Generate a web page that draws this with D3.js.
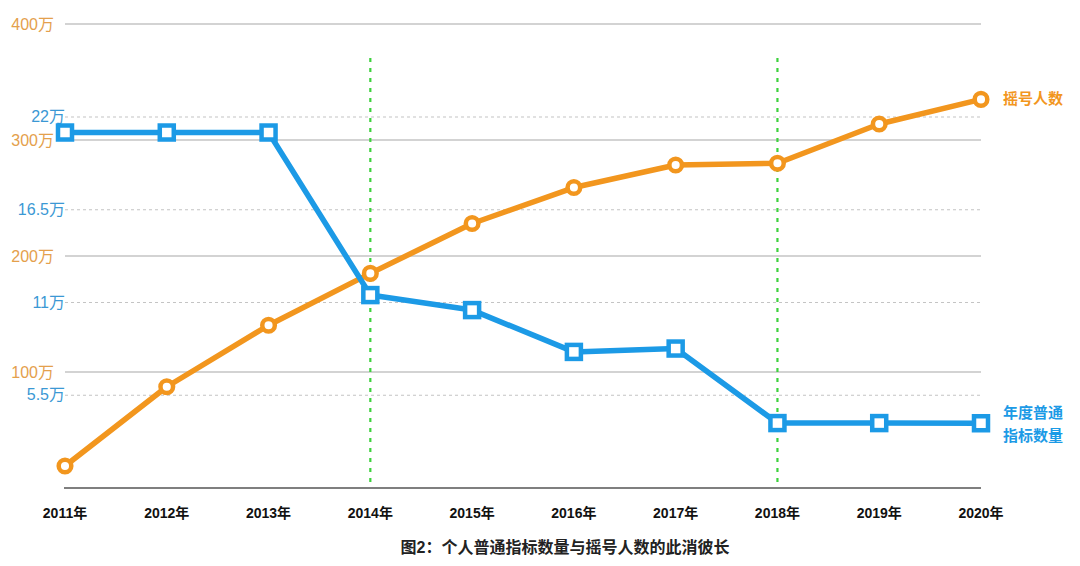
<!DOCTYPE html>
<html>
<head>
<meta charset="utf-8">
<script src="https://cdn.jsdelivr.net/npm/d3@7"></script>
<style>
  body { margin: 0; background: #fff; }
  text { font-family: "Liberation Sans", "Noto Sans CJK SC", sans-serif; }
</style>
</head>
<body>
<div id="chart"></div>
<script>
// data
const years = ["2011年", "2012年", "2013年", "2014年", "2015年", "2016年", "2017年", "2018年", "2019年", "2020年"];
const applicants = [19, 87.3, 140.3, 185, 228, 259, 278.4, 280, 313.8, 335]; // 万人
const quota = [21.08, 21.08, 21.08, 11.44, 10.55, 8.07, 8.27, 3.85, 3.85, 3.84]; // 万个
const leftTicks = [100, 200, 300, 400];
const rightTicks = [5.5, 11, 16.5, 22];
const markYears = ["2014年", "2018年"];

const orange = "#F2961E", blue = "#1C9AE6";

const svg = d3.select("#chart").append("svg")
  .attr("width", 1080)
  .attr("height", 566);

const x = d3.scalePoint().domain(years).range([65, 981]);
const yA = d3.scaleLinear().domain([0, 400]).range([488, 24]);
const yQ = d3.scaleLinear().domain([0, 22]).range([488, 117]);

// grid lines
svg.append("g").selectAll("line").data(leftTicks).join("line")
  .attr("x1", 65).attr("x2", 981)
  .attr("y1", d => yA(d)).attr("y2", d => yA(d))
  .attr("stroke", "#c4c4c4").attr("stroke-width", 1.5);

svg.append("g").selectAll("line").data(rightTicks).join("line")
  .attr("x1", 65).attr("x2", 981)
  .attr("y1", d => yQ(d)).attr("y2", d => yQ(d))
  .attr("stroke", "#c4c4c4").attr("stroke-width", 1.2)
  .attr("stroke-dasharray", "3,3");

// tick labels
svg.append("g").selectAll("text").data(leftTicks).join("text")
  .attr("x", 54).attr("y", d => yA(d) + 6)
  .attr("text-anchor", "end")
  .attr("font-size", 16).attr("fill", "#E4A04C")
  .text(d => d + "万");

svg.append("g").selectAll("text").data(rightTicks).join("text")
  .attr("x", 65).attr("y", d => yQ(d) + 5)
  .attr("text-anchor", "end")
  .attr("font-size", 16).attr("fill", "#3B98D4")
  .text(d => d + "万");

// x axis
svg.append("line")
  .attr("x1", 64).attr("x2", 981).attr("y1", 488).attr("y2", 488)
  .attr("stroke", "#555").attr("stroke-width", 1.5);

svg.append("g").selectAll("text").data(years).join("text")
  .attr("x", d => x(d)).attr("y", 518)
  .attr("text-anchor", "middle")
  .attr("font-size", 14).attr("font-weight", "bold").attr("fill", "#111")
  .text(d => d);

// green dashed markers
svg.append("g").selectAll("line").data(markYears).join("line")
  .attr("x1", d => x(d)).attr("x2", d => x(d))
  .attr("y1", 58).attr("y2", 488)
  .attr("stroke", "#3DD13D").attr("stroke-width", 2.2)
  .attr("stroke-dasharray", "4,6");

// applicants line
svg.append("path")
  .datum(applicants)
  .attr("fill", "none").attr("stroke", orange).attr("stroke-width", 5.5)
  .attr("stroke-linejoin", "round")
  .attr("d", d3.line().x((d, i) => x(years[i])).y(d => yA(d)));

// quota line
svg.append("path")
  .datum(quota)
  .attr("fill", "none").attr("stroke", blue).attr("stroke-width", 5.5)
  .attr("stroke-linejoin", "round")
  .attr("d", d3.line().x((d, i) => x(years[i])).y(d => yQ(d)));

svg.append("g").selectAll("circle").data(applicants).join("circle")
  .attr("cx", (d, i) => x(years[i])).attr("cy", d => yA(d))
  .attr("r", 6.3)
  .attr("fill", "#fff").attr("stroke", orange).attr("stroke-width", 4.5);

svg.append("g").selectAll("rect").data(quota).join("rect")
  .attr("x", (d, i) => x(years[i]) - 7).attr("y", d => yQ(d) - 7)
  .attr("width", 14).attr("height", 14)
  .attr("fill", "#fff").attr("stroke", blue).attr("stroke-width", 4.5);

// series labels
svg.append("text")
  .attr("x", 1003).attr("y", yA(applicants[9]) + 5)
  .attr("font-size", 15).attr("font-weight", "bold").attr("fill", orange)
  .text("摇号人数");

svg.append("text")
  .attr("x", 1003).attr("y", 418)
  .attr("font-size", 15).attr("font-weight", "bold").attr("fill", blue)
  .text("年度普通");
svg.append("text")
  .attr("x", 1003).attr("y", 441)
  .attr("font-size", 15).attr("font-weight", "bold").attr("fill", blue)
  .text("指标数量");

// caption
svg.append("text")
  .attr("x", 565).attr("y", 553)
  .attr("text-anchor", "middle")
  .attr("font-size", 16).attr("font-weight", "bold").attr("fill", "#222")
  .text("图2：个人普通指标数量与摇号人数的此消彼长");
</script>
</body>
</html>
